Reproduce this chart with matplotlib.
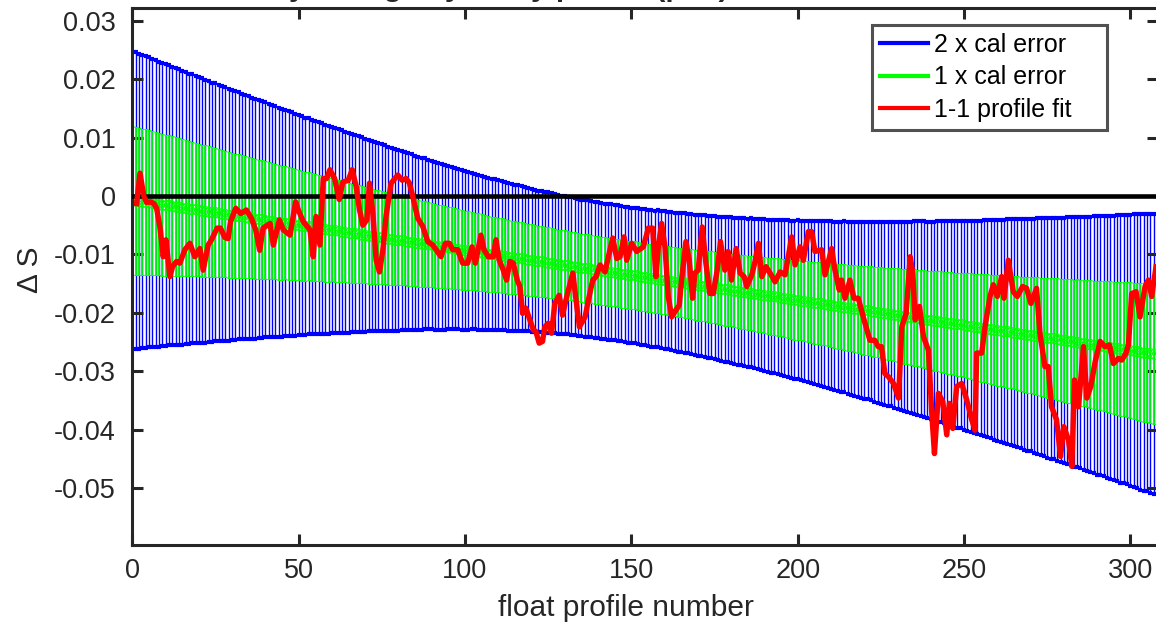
import numpy as np
import matplotlib
matplotlib.use("Agg")
import matplotlib.pyplot as plt
from matplotlib.lines import Line2D

plt.rcParams['font.family'] = ['Liberation Sans', 'DejaVu Sans']

# ---------------- data ----------------
# calibration fit (centre of error bars) per profile, units 1e-4
cal_fit_e4 = [
    -7, -8, -9, -10, -10, -11, -12, -13, -14, -15, -16, -16, -17, -18,
    -19, -20, -21, -22, -22, -23, -24, -25, -26, -27, -28, -28, -29, -30,
    -31, -32, -33, -34, -34, -35, -36, -37, -38, -39, -40, -40, -41, -42,
    -43, -44, -45, -46, -46, -47, -48, -49, -50, -51, -52, -52, -53, -54,
    -55, -56, -57, -58, -58, -59, -60, -61, -62, -63, -64, -64, -65, -66,
    -67, -68, -69, -70, -70, -71, -72, -73, -74, -75, -76, -76, -77, -78,
    -79, -80, -81, -82, -82, -83, -84, -85, -86, -87, -88, -88, -89, -90,
    -91, -92, -93, -94, -94, -95, -96, -97, -98, -99, -100, -100, -101, -102,
    -103, -104, -105, -106, -106, -107, -108, -109, -110, -111, -112, -112, -113, -114,
    -115, -116, -117, -118, -118, -119, -120, -121, -122, -123, -124, -124, -125, -126,
    -127, -128, -129, -130, -130, -131, -132, -133, -134, -135, -136, -136, -137, -138,
    -139, -140, -141, -142, -142, -143, -144, -145, -146, -147, -148, -148, -149, -150,
    -151, -152, -153, -154, -154, -155, -156, -157, -158, -159, -160, -160, -161, -162,
    -163, -164, -165, -166, -166, -167, -168, -169, -170, -171, -172, -172, -173, -174,
    -175, -176, -177, -178, -178, -179, -180, -181, -182, -183, -184, -184, -185, -186,
    -187, -188, -189, -190, -190, -191, -192, -193, -194, -195, -196, -196, -197, -198,
    -199, -200, -201, -202, -202, -203, -204, -205, -206, -207, -208, -208, -209, -210,
    -211, -212, -213, -214, -214, -215, -216, -217, -218, -219, -220, -220, -221, -222,
    -223, -224, -225, -226, -226, -227, -228, -229, -230, -231, -232, -232, -233, -234,
    -235, -236, -237, -238, -238, -239, -240, -241, -242, -243, -244, -244, -245, -246,
    -247, -248, -249, -250, -250, -251, -252, -253, -254, -255, -256, -256, -257, -258,
    -259, -260, -261, -262, -262, -263, -264, -265, -266, -267, -268, -268, -269, -270,
]

# 1 x calibration error per profile, units 1e-5
cal_err_e5 = [
    1276,
    1269, 1262, 1255, 1248, 1241, 1234, 1227, 1220, 1213, 1206,
    1199, 1192, 1186, 1179, 1172, 1165, 1158, 1152, 1145, 1138,
    1131, 1125, 1118, 1111, 1105, 1098, 1091, 1085, 1078, 1071,
    1065, 1058, 1052, 1045, 1039, 1032, 1026, 1019, 1013, 1006,
    1000, 994, 987, 981, 975, 969, 962, 956, 950, 944,
    938, 931, 925, 919, 913, 907, 901, 895, 889, 883,
    877, 871, 866, 860, 854, 848, 843, 837, 832, 826,
    820, 815, 809, 804, 798, 793, 788, 782, 777, 772,
    767, 762, 756, 751, 746, 741, 736, 732, 727, 722,
    718, 713, 709, 704, 700, 696, 692, 687, 683, 679,
    675, 671, 667, 663, 659, 655, 652, 648, 645, 641,
    638, 635, 632, 629, 626, 623, 620, 618, 615, 612,
    610, 607, 605, 603, 601, 599, 597, 595, 593, 591,
    590, 589, 587, 586, 585, 584, 583, 583, 582, 581,
    581, 580, 580, 580, 580, 580, 580, 580, 581, 581,
    581, 582, 582, 583, 583, 584, 585, 586, 587, 588,
    589, 590, 592, 593, 594, 596, 597, 599, 600, 602,
    604, 606, 608, 610, 612, 614, 616, 619, 621, 623,
    625, 628, 630, 633, 635, 638, 641, 643, 646, 649,
    652, 655, 658, 661, 664, 667, 671, 674, 678, 681,
    684, 688, 691, 695, 698, 702, 706, 709, 713, 717,
    721, 725, 728, 732, 736, 740, 744, 749, 753, 757,
    761, 765, 770, 774, 778, 782, 787, 791, 796, 800,
    805, 809, 814, 818, 823, 828, 832, 837, 841, 846,
    851, 856, 860, 865, 870, 875, 880, 885, 890, 895,
    900, 905, 910, 915, 920, 925, 930, 935, 940, 945,
    950, 955, 961, 966, 971, 976, 981, 987, 992, 997,
    1002, 1008, 1013, 1019, 1024, 1029, 1035, 1040, 1045, 1050,
    1056, 1061, 1067, 1072, 1078, 1083, 1089, 1094, 1100, 1105,
    1111, 1116, 1122, 1127, 1133, 1139, 1144, 1150, 1155, 1161,
    1167, 1172, 1178, 1183, 1189, 1195, 1200,
]

# 1-1 profile fit (profile number, delta S in 1e-4)
fit_profile = [
    1.3, 2.3, 3.5, 4.3, 5.5, 6.5, 7.3, 8.3, 9.3, 10.1,
    11.3, 12.1, 13.3, 14.3, 15.8, 17.3, 18.8, 20.3, 21.3, 22.8,
    23.8, 25.5, 26.5, 27.8, 28.8, 29.5, 31.1, 32.6, 34.3, 35.8,
    37.1, 38.3, 39.3, 41.4, 42.4, 44.2, 45.4, 47.4, 49.1, 49.9,
    51.4, 53.4, 54.4, 55.2, 56.4, 57.4, 58.4, 59.4, 60.8, 62.2,
    63.3, 64.9, 66.1, 67.3, 68.3, 69.3, 70.5, 71.3, 72.3, 73.3,
    74.3, 75.3, 76.3, 77.8, 79.8, 81.1, 82.3, 83.3, 84.3, 85.8,
    87.3, 88.8, 90.3, 92.8, 94.1, 95.3, 96.3, 97.8, 99.3, 100.8,
    102.1, 103.1, 104.8,
    105.7, 107.0, 108.5, 109.3, 110.3, 111.5, 112.5, 113.5, 114.5, 115.7,
    116.5, 117.3, 118.3, 119.5, 120.5, 121.3, 122.3, 123.3, 124.0, 125.0,
    126.0, 127.0, 128.3, 129.3, 130.8, 132.4, 133.6, 134.4, 136.1, 137.1,
    138.4, 139.4, 140.6, 142.1, 143.1, 144.4, 145.6, 146.6, 147.8, 148.6,
    150.1, 151.6, 153.6, 155.1, 156.4, 157.4, 158.1, 159.1, 160.1, 161.1,
    162.1, 163.1, 164.4, 165.1, 166.4, 167.4, 168.4, 169.1, 170.1, 171.3,
    172.4, 173.6, 174.6, 175.8, 176.8, 178.1, 179.1, 180.1, 181.5, 182.7,
    183.9, 184.7, 186.2, 187.2, 188.2, 189.2, 190.5, 191.7, 193.2, 194.7,
    196.2, 198.2, 199.2,
    200.7, 201.7, 203.2, 204.2, 205.2, 207.2, 208.2, 210.2, 211.2, 212.5,
    213.2, 214.2, 215.7, 216.9, 218.2, 219.7, 221.7, 223.2, 224.2, 225.2,
    226.2, 227.2, 228.8, 230.3, 231.3, 232.6, 233.8, 234.6, 235.3, 236.6,
    237.8, 239.3, 240.3, 241.1, 242.3, 243.6, 244.8, 245.6, 246.6, 247.8,
    249.3, 250.8, 252.3, 253.3, 253.8, 255.3, 256.3, 257.8, 258.8, 260.0,
    261.3, 262.0, 263.3, 264.8, 266.0, 267.6, 268.8, 270.1, 271.8, 272.8,
    274.3, 275.3, 276.3, 277.8, 279.0, 280.0, 281.4, 282.4, 283.2, 284.4,
    285.9, 286.9, 288.1, 289.4, 290.9, 292.4, 293.7, 294.9, 296.4, 297.4,
    298.7, 299.4, 300.4, 301.7, 302.9, 304.4, 305.4, 306.4, 307.7,
]
fit_dS_e4 = [
    -13, 39, -1, -11, -10, -13, -21, -53, -104, -75,
    -138, -121, -112, -115, -92, -81, -104, -90, -127, -84,
    -75, -55, -55, -71, -73, -44, -21, -30, -24, -38,
    -58, -93, -55, -47, -84, -41, -58, -67, -10, -24,
    -44, -58, -104, -35, -84, 30, 30, 45, 30, -6,
    24, 27, 45, 16, -24, -50, -41, 22, -30, -110,
    -130, -93, -33, 22, 36, 27, 30, 22, -1, -38,
    -52, -78, -84, -104, -81, -81, -92, -92, -115, -115,
    -87, -115, -67,
    -92, -104, -104, -75, -110, -127, -144, -112, -115, -144,
    -155, -201, -192, -212, -229, -232, -252, -249, -224, -218,
    -235, -184, -170, -204, -167, -132, -189, -224, -207, -178,
    -144, -138, -118, -130, -104, -72, -107, -104, -70, -110,
    -81, -95, -87, -55, -55, -138, -87, -47, -87, -172,
    -207, -198, -187, -144, -78, -110, -175, -132, -127, -53,
    -115, -167, -167, -127, -78, -127, -95, -144, -90, -132,
    -138, -155, -135, -112, -81, -138, -121, -132, -147, -130,
    -135, -70, -118,
    -87, -110, -61, -61, -95, -92, -135, -90, -127, -161,
    -144, -175, -144, -175, -175, -207, -247, -247, -258, -258,
    -304, -309, -321, -346, -224, -201, -104, -132, -212, -189,
    -241, -264, -372, -441, -338, -352, -409, -355, -398, -326,
    -321, -349, -383, -401, -269, -269, -224, -172, -152, -172,
    -138, -175, -110, -164, -172, -155, -158, -184, -158, -235,
    -292, -292, -361, -383, -446, -395, -418, -463, -315, -361,
    -258, -346, -326, -284, -249, -258, -255, -287, -278, -281,
    -269, -255, -167, -164, -207, -155, -144, -172, -121,
]

legend_labels = ['2 x cal error', '1 x cal error', '1-1 profile fit']
x_ticks = [0, 50, 100, 150, 200, 250, 300]
y_ticks = [-0.05, -0.04, -0.03, -0.02, -0.01, 0, 0.01, 0.02, 0.03]
y_ticklabels = ['-0.05', '-0.04', '-0.03', '-0.02', '-0.01', '0', '0.01', '0.02', '0.03']

# ---------------- derived ----------------
profiles = np.arange(len(cal_fit_e4))
cal_fit = np.array(cal_fit_e4) * 1e-4
cal_err = np.array(cal_err_e5) * 1e-5
fit_x = np.array(fit_profile)
fit_y = np.array(fit_dS_e4) * 1e-4

# ---------------- figure ----------------
W, H = 1156, 628
fig = plt.figure(figsize=(W / 100, H / 100), dpi=100)
ax_l, ax_r, ax_t, ax_b = 132.3, 1158.0, 8.0, 545.0
ax = fig.add_axes([ax_l / W, 1 - ax_b / H, (ax_r - ax_l) / W, (ax_b - ax_t) / H])

dark = '#262626'
blue = '#0000ff'
green = '#00ff00'
red = '#ff0000'

ax.errorbar(profiles, cal_fit, yerr=2 * cal_err, fmt='none', ecolor=blue,
            elinewidth=1.0, capsize=1.3, capthick=3.0, zorder=1)
ax.errorbar(profiles, cal_fit, yerr=cal_err, fmt='o-', color=green, ecolor=green,
            lw=0.8, ms=7, mfc='none', mec=green, mew=0.8,
            elinewidth=1.3, capsize=1.3, capthick=3.0, zorder=2)
ax.axhline(0, color='black', lw=3.3, zorder=3)
ax.plot(fit_x, fit_y, color=red, lw=3.9, zorder=4, solid_joinstyle='round')

ax.set_xlim(0, (ax_r - ax_l) / 3.327)
ax.set_ylim((196 - ax_b) / 5840, (196 - ax_t) / 5840)
ax.set_xticks(x_ticks)
ax.set_yticks(y_ticks)
ax.set_yticklabels(y_ticklabels)

for s in ax.spines.values():
    s.set_linewidth(2.2)
    s.set_color(dark)
ax.tick_params(axis='both', which='both', direction='in', top=True, right=True,
               length=8, width=2.2, color=dark, labelcolor=dark, labelsize=19.5)
ax.tick_params(axis='y', pad=12)
ax.tick_params(axis='x', pad=9)

ax.set_xlabel('float profile number', fontsize=21.5, color=dark)
ax.xaxis.label.set_va('center')
ax.xaxis.set_label_coords((626 - ax_l) / (ax_r - ax_l), -(608 - ax_b) / (ax_b - ax_t))
ax.set_ylabel('\u0394 S', fontsize=21.5, color=dark)
ax.yaxis.label.set_va('center')
ax.yaxis.set_label_coords((30 - ax_l) / (ax_r - ax_l), (ax_b - 270) / (ax_b - ax_t))

# title sits above the top edge in the reference: only its descenders show
fig.text(645 / W, 1 + 4.5 / H, 'Salinity change by every profile (psu) relative to the calibration',
         ha='center', va='baseline', fontsize=21.5, fontweight='bold', color=dark)

handles = [Line2D([], [], color=blue, lw=3),
           Line2D([], [], color=green, lw=3),
           Line2D([], [], color=red, lw=3)]
leg = ax.legend(handles, legend_labels, loc='upper left', mode='expand',
                bbox_to_anchor=(872 / W, 1 - 127 / H, (1107 - 872) / W, (127 - 25) / H),
                bbox_transform=fig.transFigure,
                borderaxespad=0, fontsize=18, frameon=True, fancybox=False,
                handlelength=1.95, handletextpad=0.25, labelspacing=0.35,
                borderpad=0.3)
leg.get_frame().set_edgecolor(dark)
leg.get_frame().set_linewidth(2.2)
for t in leg.get_texts():
    t.set_color('black')

fig.savefig('out.png', dpi=100)
